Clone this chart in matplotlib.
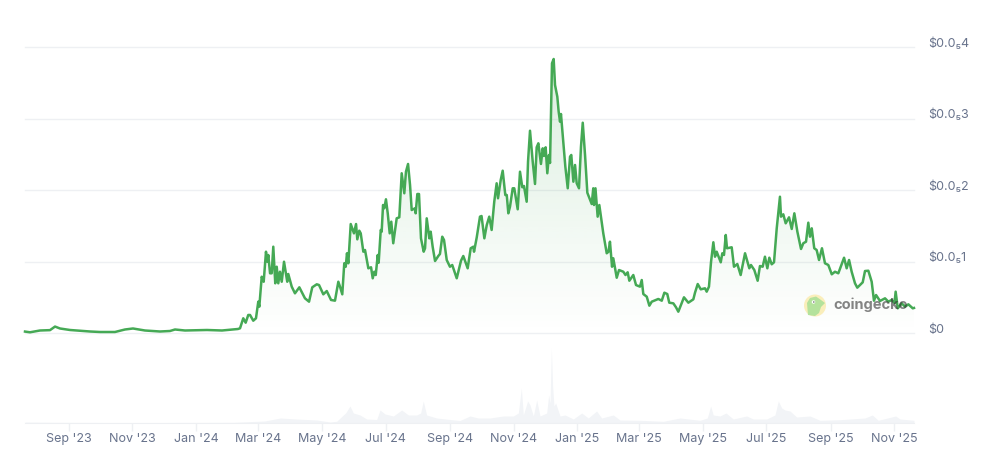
import pandas as pd
import numpy as np
import matplotlib
matplotlib.use('Agg')
import matplotlib.pyplot as plt
from matplotlib.patches import Circle, Polygon, Ellipse

plt.rcParams['font.family'] = ['Inter', 'DejaVu Sans']

# start of the series, day offsets below count from here

start_date = pd.Timestamp('2023-07-21')

# price in units of 0.000001 usd

price_days = [0, 4.8, 14.4, 24, 28.8, 33.6, 43.2, 62.4, 72, 86.3, 95.9, 103.6, 115.1, 129.5, 139.1, 143.9, 153.5, 174.6, 189, 198.6, 204.3, 206.3,
    209.4, 211.7, 214.2, 215.9, 219, 221.6, 223.8, 224.8, 227.1, 229, 231.2, 232.5, 233.4, 235.1, 236.7, 238.2, 240.1, 241.5, 243, 244.6, 246.3, 248.5,
    251.6, 252.6, 255.9, 259, 263.2, 268.6, 272.5, 275.6, 279.9, 282.1, 286.2, 289.5, 293.6, 297.4, 300.6, 302.2, 304.4, 306.3, 307.7, 308.9, 310.2,
    312.5, 315.6, 317.6, 318.8, 320.7, 322.1, 324.6, 326.2, 329.4, 332, 333.6, 335.1, 336.5, 338.4, 339.3, 341.3, 342.2, 343.5, 344.7, 346.3, 348,
    349.9, 351.4, 353.3, 356.6, 359.1, 361.4, 363.9, 365.5, 367.5, 369.4, 371, 374.2, 374.8, 376.4, 378, 379.9, 382.5, 383.8, 385.4, 387.9, 389.2,
    391.1, 393.4, 396.5, 398.1, 400.3, 402, 404.6, 407.7, 409.9, 414.2, 418.3, 420.5, 424.7, 427.6, 430.1, 430.8, 433.4, 436.5, 438, 440.7, 443, 445.4,
    447.7, 450.2, 452.5, 453.8, 456.4, 458.3, 460.8, 462.2, 463.7, 465.3, 467.9, 469.4, 472.7, 474.9, 477.1, 478.7, 481.3, 482.6, 484.5, 487.1, 489.3,
    490.9, 492.5, 495, 496.7, 497.9, 499.5, 501.1, 502.7, 503.7, 505.6, 507.2, 508.5, 510.7, 512, 513.3, 514.2, 516.5, 518.4, 520.7, 522.9, 524.1,
    526.1, 527.7, 529.3, 531.5, 533.4, 535.1, 537.3, 539.5, 543.7, 545.2, 545.9, 547.3, 549.4, 551, 552.6, 554.8, 558.1, 559.8, 561.2, 563.2, 564.4,
    567.7, 569.9, 574, 576.1, 578.2, 579.8, 583.6, 586.2, 590, 591.7, 593.2, 596.5, 599, 601.3, 607.6, 610.9, 613.4, 616.2, 618.1, 622, 624.6, 626.8,
    632.2, 636.4, 641.2, 642.8, 645.4, 648.3, 652.4, 654, 656.2, 658.2, 660.4, 662, 663.6, 667.5, 669, 670.6, 672.3, 673.5, 678, 680.2, 683.4, 686.6,
    690.8, 694.9, 696.5, 699.7, 702.9, 705.1, 707.7, 709.9, 712.2, 714.1, 716.4, 718.6, 721.2, 724.3, 725.3, 727.5, 729.8, 733, 735.6, 738.1, 741,
    744.5, 746.7, 749.3, 751.5, 753.1, 754.8, 757.2, 759.5, 761.8, 764.6, 767.5, 770.7, 774, 777.1, 780.3, 785.8, 788.3, 790.6, 793.1, 796.3, 798.5,
    803.7, 805.9, 809.1, 812.3, 814.5, 816.5, 820.3, 825.1, 828.3, 831.5, 834.2, 835.3, 837.3, 841.1, 844.3, 847.5, 851.7, 852.9]

price_vals = [0.02, 0.01, 0.035, 0.04, 0.09, 0.063, 0.042, 0.021, 0.014, 0.014, 0.049, 0.063, 0.035, 0.021, 0.028, 0.049, 0.035, 0.042, 0.035, 0.049, 0.056, 0.066,
    0.206, 0.144, 0.252, 0.252, 0.172, 0.206, 0.438, 0.368, 0.787, 0.717, 1.137, 0.997, 1.091, 0.835, 0.835, 1.207, 0.695, 0.927, 0.695, 0.857, 0.717, 0.997,
    0.717, 0.825, 0.648, 0.555, 0.639, 0.485, 0.438, 0.639, 0.681, 0.671, 0.541, 0.587, 0.462, 0.452, 0.717, 0.648, 0.541, 0.975, 0.927, 1.115, 0.975,
    1.524, 1.394, 1.524, 1.31, 1.431, 1.394, 1.137, 1.161, 0.905, 0.919, 0.765, 0.857, 0.811, 1.091, 0.983, 1.441, 1.417, 1.79, 1.744, 1.87, 1.674,
    1.394, 1.557, 1.255, 1.604, 1.618, 2.234, 1.954, 2.256, 2.364, 2.07, 1.72, 1.744, 1.674, 1.944, 1.944, 1.324, 1.137, 1.185, 1.604, 1.324, 1.417,
    1.207, 1.007, 1.077, 1.105, 1.347, 1.301, 1.021, 0.927, 0.951, 0.765, 1.011, 1.077, 0.905, 1.185, 1.207, 1.137, 1.338, 1.627, 1.636, 1.324, 1.51, 1.627,
    1.441, 1.836, 2.094, 1.884, 2.14, 2.27, 1.93, 1.93, 1.674, 1.766, 2.024, 2.024, 1.73, 2.256, 2.038, 2.056, 1.836, 2.396, 2.829, 2.396, 2.084,
    2.597, 2.653, 2.364, 2.583, 2.476, 2.597, 2.234, 2.49, 2.378, 3.772, 3.832, 3.468, 3.305, 3.095, 2.955, 3.063, 2.653, 2.326, 2.024, 2.466, 2.49,
    2.116, 2.35, 2.094, 2.024, 2.606, 2.941, 2.49, 1.962, 1.804, 2.024, 1.79, 2.024, 1.627, 1.79, 1.627, 1.394, 1.115, 1.137, 1.277, 0.927, 1.045,
    0.773, 0.881, 0.857, 0.811, 0.849, 0.731, 0.811, 0.671, 0.648, 0.741, 0.545, 0.508, 0.382, 0.438, 0.476, 0.452, 0.564, 0.545, 0.424, 0.415, 0.359, 0.298,
    0.499, 0.424, 0.471, 0.564, 0.685, 0.611, 0.625, 0.578, 0.648, 0.997, 1.269, 1.067, 1.137, 0.989, 1.115, 1.091, 1.371, 1.185, 1.199, 0.927, 0.965, 0.811,
    1.115, 0.905, 0.951, 0.881, 0.731, 0.937, 0.927, 1.067, 0.905, 1.053, 0.961, 0.989, 1.464, 1.906, 1.627, 1.66, 1.534, 1.618, 1.455, 1.674, 1.417,
    1.175, 1.255, 1.277, 1.543, 1.347, 1.464, 1.185, 1.161, 1.021, 1.185, 0.975, 0.951, 0.821, 0.857, 0.835, 1.053, 0.905, 1.021, 0.857, 0.695, 0.634,
    0.709, 0.867, 0.871, 0.717, 0.452, 0.531, 0.448, 0.485, 0.438, 0.462, 0.42, 0.578, 0.345, 0.415, 0.368, 0.401, 0.345, 0.35]

# volume, no scale in the picture so relative units

vol_days = [0, 30, 100, 200, 230, 245, 260, 280, 292.6, 299, 305.4, 307.6, 311.8, 315, 321.4, 327.8, 337.4, 340.6, 345.4, 353.4, 361.4, 367.8, 375.7,
    379.6, 382.1, 385.3, 394.9, 407.7, 417.3, 426.9, 434.9, 446.1, 458.9, 468.5, 473.3, 476.2, 478.1, 482.2, 484.5, 487.7, 490.9, 494.1, 500.5,
    502.4, 503.7, 505, 506.2, 507.5, 509.1, 513.3, 518.1, 526.1, 534.1, 540.4, 548.4, 553.2, 564.4, 570.8, 590, 612.4, 628.4, 647.6, 654.6, 657.8,
    660.3, 666.7, 672.5, 679.5, 692.3, 698.7, 711.5, 719.5, 722.7, 726, 729.1, 733.9, 740.3, 753.1, 762.7, 781.9, 805.9, 812.9, 818.6, 835.3, 839.4, 852.9]

vol_vals = [1, 0.7, 0.5, 0.7, 2, 5, 4, 3, 1, 1.7, 8, 10, 17, 10, 8, 4, 3.5, 13, 9, 7, 13, 8, 8,
    10, 22, 8, 5, 3.5, 2.5, 7, 5, 5, 7, 7, 10, 35, 8, 22, 18, 7, 23, 7, 10,
    28, 20, 75, 37, 17, 20, 7, 8, 4, 10, 5, 12, 5, 8, 3, 2.7, 1.7, 5, 2.7, 5, 17,
    8, 7, 10, 4, 7, 4, 4, 8, 22, 15, 13, 12, 6, 7, 2.7, 3.3, 5, 8, 2.7, 7, 4, 2.7]

# tick labels

month_ticks = ['2023-09-01', '2023-11-01', '2024-01-01', '2024-03-01', '2024-05-01', '2024-07-01', '2024-09-01',
    '2024-11-01', '2025-01-01', '2025-03-01', '2025-05-01', '2025-07-01', '2025-09-01', '2025-11-01']
month_labels = ["Sep '23", "Nov '23", "Jan '24", "Mar '24", "May '24", "Jul '24", "Sep '24",
    "Nov '24", "Jan '25", "Mar '25", "May '25", "Jul '25", "Sep '25", "Nov '25"]
price_ticks = [0, 1, 2, 3, 4]
price_labels = ['$0', '$0.0\u20851', '$0.0\u20852', '$0.0\u20853', '$0.0\u20854']

price_dates = start_date + pd.to_timedelta(price_days, unit='D')
vol_dates = start_date + pd.to_timedelta(vol_days, unit='D')
end_date = price_dates[-1]
tick_dates = pd.to_datetime(month_ticks)

W, H = 997, 458
GREEN = '#45a955'
GRID = '#eef0f3'
LABEL = '#68738c'

fig = plt.figure(figsize=(W / 100, H / 100), dpi=100)

# price panel

ax = fig.add_axes([25 / W, (H - 333) / H, 889 / W, 286 / H])
ax.set_xlim(start_date, end_date)
ax.set_ylim(0, 4)
for s in ax.spines.values():
    s.set_visible(False)
ax.set_xticks([])
ax.set_yticks(price_ticks)
ax.set_yticklabels([])
ax.tick_params(axis='y', length=0)
ax.grid(axis='y', color=GRID, lw=1, clip_on=False)
ax.set_axisbelow(True)

# gradient under the line

poly = ax.fill_between(price_dates, price_vals, 0, color='none')
grad = np.zeros((256, 1, 4))
grad[:, :, 0] = 0x3c / 255
grad[:, :, 1] = 0xa5 / 255
grad[:, :, 2] = 0x50 / 255
grad[:, :, 3] = np.linspace(0.19, 0.0, 256)[:, None]
x0, x1 = ax.get_xlim()
img = ax.imshow(grad, extent=[x0, x1, 0, 4], origin='upper', aspect='auto', zorder=1, interpolation='bilinear')
img.set_clip_path(poly.get_paths()[0], transform=ax.transData)
ax.set_xlim(x0, x1)
ax.set_ylim(0, 4)

ax.plot(price_dates, price_vals, color=GREEN, lw=1.8, zorder=3, solid_joinstyle='round', clip_on=False)

for v, lab in zip(price_ticks, price_labels):
    ax.annotate(lab, xy=(1, v), xycoords=('axes fraction', 'data'), xytext=(10.4, 2.4), textcoords='offset points',
                va='center', ha='left', fontsize=9, color=LABEL)

# volume panel

ax_vol = fig.add_axes([25 / W, (H - 423) / H, 889 / W, 76 / H])
ax_vol.set_xlim(start_date, end_date)
ax_vol.set_ylim(0, 76)
for s in ax_vol.spines.values():
    s.set_visible(False)
ax_vol.spines['bottom'].set_visible(True)
ax_vol.spines['bottom'].set_color(GRID)
ax_vol.fill_between(vol_dates, vol_vals, 0, color='#f2f4f7', lw=0)
ax_vol.set_yticks([])
ax_vol.set_xticks(tick_dates)
ax_vol.set_xticklabels(month_labels, fontsize=9, color=LABEL)
ax_vol.tick_params(axis='x', length=6, width=1, color=GRID, pad=1.2)
ax_vol.patch.set_alpha(0)

# watermark, drawn in pixels

ax_logo = fig.add_axes([0, 0, 1, 1])
ax_logo.set_xlim(0, W)
ax_logo.set_ylim(H, 0)
ax_logo.axis('off')
ax_logo.add_patch(Circle((815, 305.5), 11, color='#faeebb', lw=0))
ax_logo.add_patch(Polygon([(808, 315), (807, 303), (810, 298), (816, 296.5), (821, 300), (825, 303), (821, 307), (819, 313), (815, 316)],
                          closed=True, color='#b4e29c', lw=0))
ax_logo.add_patch(Ellipse((813.5, 302), 3.5, 3.5, color='white', lw=0))
ax_logo.add_patch(Ellipse((813.8, 302), 1.5, 1.5, color='#666666', lw=0))
ax_logo.text(833.5, 305, 'coingecko', fontsize=10.5, fontweight='bold', color='#333333', alpha=0.6, va='center', ha='left')

fig.savefig('out.png', dpi=100)
